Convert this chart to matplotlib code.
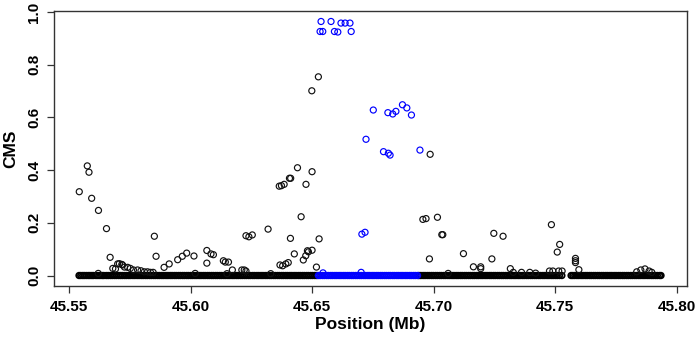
import matplotlib
matplotlib.use("Agg")
import matplotlib.pyplot as plt

plt.rcParams['font.family'] = ['Liberation Sans', 'DejaVu Sans']

# SNP positions (Mb) with CMS ~ 0 (black, outside region)
black_zero_x = [
    45.5541, 45.5548, 45.5556, 45.5563, 45.5571, 45.5579, 45.5586, 45.5594, 45.5601, 45.5611,
    45.5619, 45.5627, 45.5636, 45.5643, 45.5653, 45.5661, 45.5670, 45.5678, 45.5687, 45.5695,
    45.5704, 45.5712, 45.5720, 45.5729, 45.5737, 45.5746, 45.5754, 45.5763, 45.5771, 45.5780,
    45.5788, 45.5797, 45.5805, 45.5814, 45.5822, 45.5831, 45.5839, 45.5848, 45.5856, 45.5865,
    45.5873, 45.5882, 45.5890, 45.5899, 45.5907, 45.5916, 45.5924, 45.5933, 45.5941, 45.5950,
    45.5958, 45.5967, 45.5975, 45.5984, 45.5992, 45.6001, 45.6009, 45.6018, 45.6026, 45.6035,
    45.6043, 45.6052, 45.6060, 45.6069, 45.6077, 45.6086, 45.6094, 45.6103, 45.6111, 45.6120,
    45.6128, 45.6137, 45.6145, 45.6154, 45.6162, 45.6171, 45.6179, 45.6188, 45.6196, 45.6205,
    45.6213, 45.6222, 45.6230, 45.6239, 45.6247, 45.6256, 45.6264, 45.6273, 45.6281, 45.6290,
    45.6298, 45.6307, 45.6315, 45.6324, 45.6332, 45.6341, 45.6349, 45.6358, 45.6366, 45.6375,
    45.6383, 45.6392, 45.6400, 45.6409, 45.6417, 45.6426, 45.6434, 45.6443, 45.6451, 45.6460,
    45.6468, 45.6477, 45.6485, 45.6494, 45.6502, 45.6511, 45.6519,
    45.6940, 45.6948, 45.6957, 45.6965, 45.6974, 45.6982, 45.6991, 45.6999, 45.7008, 45.7016,
    45.7025, 45.7033, 45.7042, 45.7050, 45.7059, 45.7067, 45.7076, 45.7084, 45.7093, 45.7101,
    45.7110, 45.7118, 45.7127, 45.7135, 45.7144, 45.7152, 45.7161, 45.7169, 45.7178, 45.7186,
    45.7195, 45.7203, 45.7212, 45.7220, 45.7229, 45.7237, 45.7246, 45.7254, 45.7263, 45.7271,
    45.7280, 45.7288, 45.7297, 45.7305, 45.7314, 45.7322, 45.7331, 45.7339, 45.7348, 45.7356,
    45.7365, 45.7373, 45.7382, 45.7390, 45.7399, 45.7407, 45.7416, 45.7424, 45.7433, 45.7441,
    45.7450, 45.7458, 45.7467, 45.7475, 45.7484, 45.7492, 45.7501, 45.7509, 45.7518, 45.7528,
    45.7566, 45.7573, 45.7581, 45.7590, 45.7598, 45.7607, 45.7615, 45.7624, 45.7632, 45.7641,
    45.7649, 45.7658, 45.7666, 45.7675, 45.7683, 45.7692, 45.7700, 45.7709, 45.7717, 45.7726,
    45.7734, 45.7743, 45.7751, 45.7760, 45.7768, 45.7777, 45.7785, 45.7794, 45.7802, 45.7811,
    45.7819, 45.7828, 45.7836, 45.7845, 45.7853, 45.7862, 45.7870, 45.7879, 45.7887, 45.7896,
    45.7904, 45.7913, 45.7921, 45.7930, 45.7936,
]

# SNP positions (Mb) with CMS ~ 0 inside the highlighted region (blue)
blue_zero_x = [
    45.6526, 45.6534, 45.6543, 45.6551, 45.6560, 45.6568, 45.6577, 45.6585, 45.6594, 45.6602,
    45.6611, 45.6619, 45.6628, 45.6636, 45.6645, 45.6653, 45.6662, 45.6670, 45.6679, 45.6687,
    45.6696, 45.6704, 45.6713, 45.6721, 45.6730, 45.6738, 45.6747, 45.6755, 45.6764, 45.6772,
    45.6781, 45.6789, 45.6798, 45.6806, 45.6815, 45.6823, 45.6832, 45.6840, 45.6849, 45.6857,
    45.6866, 45.6874, 45.6883, 45.6891, 45.6900, 45.6908, 45.6917, 45.6925, 45.6934,
]

# Non-zero CMS values, black SNPs
black_x = [
    45.5542, 45.5575, 45.5582, 45.5593, 45.5621, 45.5654, 45.5669, 45.5680, 45.5691, 45.5700,
    45.5707, 45.5717, 45.5720, 45.5728, 45.5741, 45.5752, 45.5765, 45.5782, 45.5796, 45.5810,
    45.5823, 45.5835, 45.5846, 45.5851, 45.5858, 45.5891, 45.5912, 45.5947, 45.5966, 45.5984,
    45.6014, 45.6067, 45.6067, 45.6084, 45.6094, 45.6135, 45.6143, 45.6156, 45.6172, 45.6211,
    45.6221, 45.6228, 45.6228, 45.6240, 45.6254, 45.6319, 45.6365, 45.6374, 45.6385, 45.6368,
    45.6379, 45.6392, 45.6402, 45.6407, 45.6412, 45.6411, 45.6427, 45.6440, 45.6455, 45.6464,
    45.6474, 45.6481, 45.6485, 45.6475, 45.6500, 45.6500, 45.6499, 45.6518, 45.6526, 45.6529,
    45.6986, 45.6956, 45.6969, 45.7016, 45.7034, 45.7038, 45.6983, 45.7123, 45.7164, 45.7194,
    45.7194, 45.7240, 45.7248, 45.7286, 45.7316, 45.7328, 45.7362, 45.7396, 45.7477, 45.7491,
    45.7485, 45.7509, 45.7519, 45.7515, 45.7529, 45.7584, 45.7584, 45.7584, 45.7598, 45.7836,
    45.7853, 45.7870, 45.7887, 45.7898, 45.5620, 45.6019, 45.6150, 45.6330, 45.7060, 45.7420,
]
black_y = [
    0.318, 0.416, 0.392, 0.293, 0.247, 0.178, 0.069, 0.027, 0.025, 0.044,
    0.045, 0.042, 0.040, 0.032, 0.031, 0.027, 0.021, 0.021, 0.018, 0.014,
    0.014, 0.012, 0.012, 0.149, 0.073, 0.031, 0.044, 0.060, 0.073, 0.085,
    0.074, 0.095, 0.047, 0.082, 0.079, 0.056, 0.051, 0.051, 0.021, 0.021,
    0.021, 0.017, 0.151, 0.147, 0.154, 0.176, 0.339, 0.341, 0.346, 0.040,
    0.037, 0.044, 0.049, 0.369, 0.369, 0.141, 0.082, 0.409, 0.223, 0.059,
    0.075, 0.094, 0.090, 0.346, 0.394, 0.096, 0.701, 0.032, 0.754, 0.139,
    0.460, 0.213, 0.216, 0.221, 0.155, 0.155, 0.063, 0.083, 0.033, 0.033,
    0.026, 0.063, 0.160, 0.149, 0.026, 0.012, 0.012, 0.012, 0.017, 0.017,
    0.193, 0.089, 0.118, 0.017, 0.017, 0.065, 0.056, 0.049, 0.022, 0.014,
    0.021, 0.025, 0.017, 0.012, 0.008, 0.008, 0.007, 0.007, 0.008, 0.009,
]

# Non-zero CMS values, blue SNPs (highlighted region)
blue_x = [
    45.6537, 45.6578, 45.6619, 45.6636, 45.6656, 45.6533, 45.6544, 45.6592, 45.6606, 45.6661,
    45.6752, 45.6812, 45.6832, 45.6845, 45.6872, 45.6890, 45.6909, 45.6722, 45.6794, 45.6814,
    45.6821, 45.6944, 45.6705, 45.6718, 45.6702, 45.6545,
]
blue_y = [
    0.964, 0.964, 0.958, 0.958, 0.958, 0.926, 0.926, 0.926, 0.924, 0.926,
    0.628, 0.618, 0.613, 0.623, 0.648, 0.636, 0.609, 0.517, 0.470, 0.464,
    0.457, 0.476, 0.157, 0.164, 0.012, 0.010,
]

x_ticks = [45.55, 45.60, 45.65, 45.70, 45.75, 45.80]
x_tick_labels = ["45.55", "45.60", "45.65", "45.70", "45.75", "45.80"]
y_ticks = [0.0, 0.2, 0.4, 0.6, 0.8, 1.0]
y_tick_labels = ["0.0", "0.2", "0.4", "0.6", "0.8", "1.0"]

fig = plt.figure(figsize=(6.97, 3.37), dpi=100)
ax = fig.add_axes([54 / 697, 1 - 286 / 337, (687 - 54) / 697, (286 - 11) / 337])

mk = dict(marker='o', s=19, facecolors='none', linewidths=0.85)
band = dict(marker='o', s=16, facecolors='none', linewidths=1.3)
ax.scatter(black_zero_x, [0.0] * len(black_zero_x), edgecolors='black', **band)
ax.scatter(black_x, black_y, edgecolors='#111111', **mk)
ax.scatter(blue_zero_x, [0.0] * len(blue_zero_x), edgecolors='blue', **band)
ax.scatter(blue_x, blue_y, edgecolors='blue', **mk)

ax.set_xlim(45.5438, 45.8043)
ax.set_ylim(-0.0398, 1.0038)

ax.set_xticks(x_ticks)
ax.set_xticklabels(x_tick_labels, fontsize=11, fontweight='bold')
ax.set_yticks(y_ticks)
ax.set_yticklabels(y_tick_labels, fontsize=11, fontweight='bold', rotation=90, va='center')
ax.tick_params(axis='both', direction='out', length=5, width=0.9, color='#333333')
ax.tick_params(axis='x', pad=5)
ax.tick_params(axis='y', pad=4)

for sp in ax.spines.values():
    sp.set_linewidth(1.0)
    sp.set_color('#333333')

ax.set_xlabel("Position (Mb)", fontsize=12.5, fontweight='bold', labelpad=2)
ax.set_ylabel("CMS", fontsize=12.5, fontweight='bold', labelpad=7)

fig.savefig("out.png", dpi=100)
